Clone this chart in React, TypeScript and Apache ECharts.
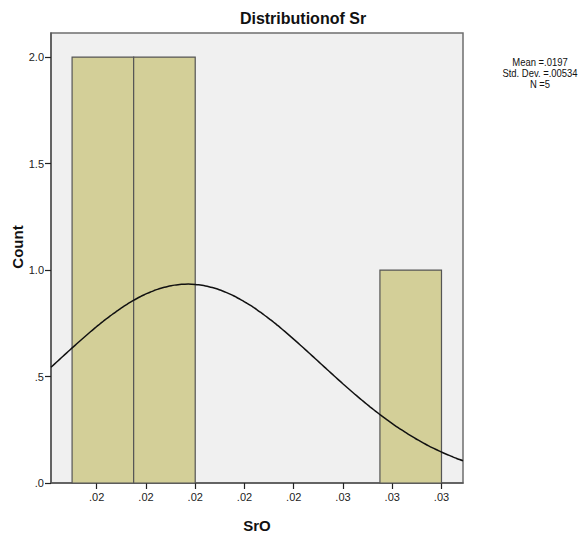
import React, { useEffect, useRef } from "react";
import * as echarts from "echarts";

// Histogram bins (SrO) and counts
const binStarts = [0.015, 0.0175, 0.0275];
const binEnds = [0.0175, 0.02, 0.03];
const counts = [2, 2, 1];

// Axis ticks
const xTicks = [0.016, 0.018, 0.02, 0.022, 0.024, 0.026, 0.028, 0.03];
const yTicks = [0, 0.5, 1, 1.5, 2];

// Summary statistics (legend)
const meanVal = 0.0197;
const stdDev = 0.00534;
const nCount = 5;
const binWidth = 0.0025;
const legendLines = ["Mean =.0197", "Std. Dev. =.00534", "N =5"];

const xMin = 0.014144;
const xMax = 0.030873;
const yMax = 2.113;

const FONT = "'Liberation Sans', Arial, sans-serif";

export default function App() {
  const ref = useRef<HTMLDivElement>(null);
  useEffect(() => {
    if (!ref.current) return;
    const chart = echarts.init(ref.current, null, { renderer: "svg" });

    // fitted normal curve from the legend's mean / sd / N
    const curve: number[][] = [];
    const steps = 120;
    for (let i = 0; i <= steps; i++) {
      const x = xMin + ((xMax - xMin) * i) / steps;
      const z = (x - meanVal) / stdDev;
      const y = (nCount * binWidth) / (stdDev * Math.sqrt(2 * Math.PI)) * Math.exp(-0.5 * z * z);
      curve.push([x, y]);
    }

    const barData = binStarts.map((s, i) => [s, binEnds[i], counts[i]]);

    chart.setOption({
      animation: false,
      textStyle: { fontFamily: FONT },
      grid: {
        left: 51,
        right: 118,
        top: 33,
        bottom: 50,
        show: true,
        backgroundColor: "#F0F0F0",
        borderColor: "#6e6e6e",
        borderWidth: 1.5,
      },
      xAxis: {
        type: "value",
        min: xMin,
        max: xMax,
        splitLine: { show: false },
        axisLine: { show: true, onZero: false, lineStyle: { color: "#555", width: 1.5 } },
        axisTick: { show: true, inside: false, customValues: xTicks, length: 6, lineStyle: { color: "#222", width: 1.2 } },
        axisLabel: {
          customValues: xTicks,
          formatter: (v: number) => "." + v.toFixed(2).slice(2),
          fontSize: 11,
          color: "#222",
          margin: 8,
          fontFamily: FONT,
        },
      },
      yAxis: {
        type: "value",
        min: 0,
        max: yMax,
        splitLine: { show: false },
        axisLine: { show: true, lineStyle: { color: "#555", width: 1.5 } },
        axisTick: { show: true, inside: false, customValues: yTicks, length: 6, lineStyle: { color: "#222", width: 1.2 } },
        axisLabel: {
          customValues: yTicks,
          formatter: (v: number) => (v < 1 ? "." + v.toFixed(1).slice(2) : v.toFixed(1)),
          fontSize: 11,
          color: "#222",
          margin: 7,
          fontFamily: FONT,
        },
      },
      graphic: [
        {
          type: "text",
          x: 303,
          y: 18,
          style: { text: "Distributionof Sr", font: `bold 16px ${FONT}`, fill: "#111", align: "center", verticalAlign: "middle" },
        },
        {
          type: "text",
          x: 17,
          y: 247,
          rotation: Math.PI / 2,
          style: { text: "Count", font: `bold 15px ${FONT}`, fill: "#111", align: "center", verticalAlign: "middle" },
        },
        {
          type: "text",
          x: 257,
          y: 525,
          style: { text: "SrO", font: `bold 15px ${FONT}`, fill: "#111", align: "center", verticalAlign: "middle" },
        },
        ...legendLines.map((t, i) => ({
          type: "text",
          x: 540,
          y: 62 + i * 11,
          scaleX: 0.86,
          style: {
            text: t,
            font: `11px ${FONT}`,
            fill: "#111",
            align: "center",
            verticalAlign: "middle",
          },
        })),
      ],
      series: [
        {
          type: "custom",
          data: barData,
          encode: { x: [0, 1], y: 2 },
          renderItem: (params: any, api: any) => {
            const p0 = api.coord([api.value(0), 0]);
            const p1 = api.coord([api.value(1), api.value(2)]);
            return {
              type: "rect",
              shape: { x: p0[0], y: p1[1], width: p1[0] - p0[0], height: p0[1] - p1[1] },
              style: { fill: "#D3CF98", stroke: "#555", lineWidth: 1.2 },
            };
          },
        },
        {
          type: "line",
          data: curve,
          showSymbol: false,
          symbol: "none",
          smooth: true,
          lineStyle: { color: "#111", width: 1.5 },
          z: 5,
        },
      ],
    });
    return () => chart.dispose();
  }, []);
  return (
    <div
      ref={ref}
      style={{ position: "absolute", left: 0, top: 0, width: 581, height: 533 }}
    />
  );
}
